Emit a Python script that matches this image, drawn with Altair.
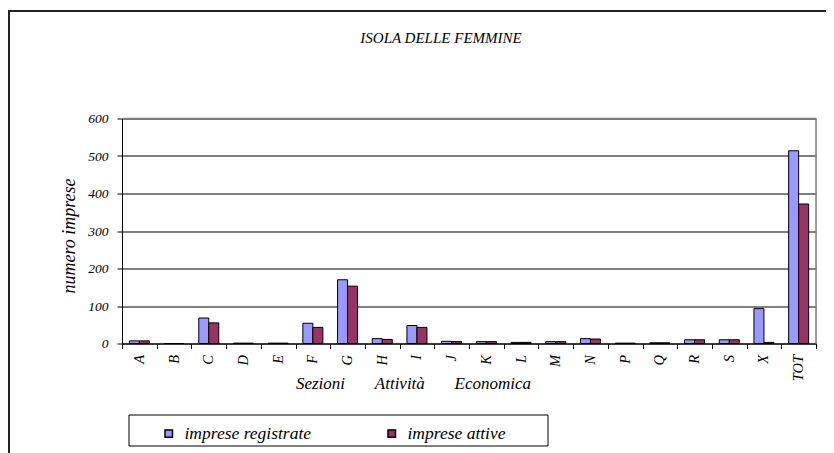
import altair as alt
import pandas as pd

categories = ["A", "B", "C", "D", "E", "F", "G", "H", "I", "J",
              "K", "L", "M", "N", "P", "Q", "R", "S", "X", "TOT"]
registrate = [7, 0, 68, 1, 1, 54, 170, 13, 48, 6, 5, 3, 5, 13, 1, 2, 10, 10, 93, 514]
attive = [7, 0, 55, 1, 1, 43, 153, 11, 43, 5, 5, 3, 5, 12, 1, 2, 10, 10, 3, 372]
series = ["imprese registrate", "imprese attive"]
colors = ["#9999FF", "#993366"]
y_ticks = [0, 100, 200, 300, 400, 500, 600]

rows = []
for c, r, a in zip(categories, registrate, attive):
    rows.append({"sezione": c, "serie": series[0], "valore": r})
    rows.append({"sezione": c, "serie": series[1], "valore": a})
df = pd.DataFrame(rows)

FONT = "Liberation Serif, Times New Roman, Times, serif"
W, H = 694, 225
NB = "\u00a0" * 7
x_title = "Sezioni" + NB + "Attività" + NB + "Economica"

bars = alt.Chart(df).mark_bar(stroke="black", strokeWidth=1).encode(
    x=alt.X(
        "sezione:N",
        sort=categories,
        scale=alt.Scale(paddingInner=0, paddingOuter=0),
        axis=alt.Axis(
            title=x_title,
            titleFont=FONT, titleFontSize=17, titleFontStyle="italic", titleFontWeight="normal",
            titleColor="black", titleX=291, titleY=45, titleAlign="center",
            titleBaseline="alphabetic", titleAngle=0,
            labelAngle=270, labelAlign="right", labelBaseline="middle",
            labelFont=FONT, labelFontSize=14.5, labelFontStyle="italic", labelColor="black",
            labelPadding=6, tickSize=5, tickColor="black", tickBand="extent",
            domainColor="black", domainWidth=1, grid=False, labelOverlap=False,
        ),
    ),
    xOffset=alt.XOffset(
        "serie:N", sort=series,
        scale=alt.Scale(paddingInner=0, paddingOuter=0.735),
    ),
    y=alt.Y(
        "valore:Q",
        scale=alt.Scale(domain=[0, 600], nice=False),
        axis=alt.Axis(
            values=y_ticks, title="numero imprese",
            titleFont=FONT, titleFontSize=18, titleFontStyle="italic", titleFontWeight="normal",
            titleColor="black", titleAngle=270, titleX=-44, titleY=117,
            titleAlign="center", titleBaseline="bottom",
            labelFont=FONT, labelFontSize=13.5, labelFontStyle="italic", labelColor="black",
            labelPadding=9, tickSize=5, tickColor="black",
            domainColor="black", domainWidth=1,
            grid=True, gridColor="black", gridWidth=1, gridOpacity=1,
        ),
    ),
    color=alt.Color(
        "serie:N", sort=series,
        scale=alt.Scale(domain=series, range=colors),
        legend=alt.Legend(
            title=None, orient="none", legendX=38, legendY=306,
            direction="horizontal", columns=2, padding=0,
            symbolType="square", symbolSize=56, symbolStrokeColor="black",
            symbolStrokeWidth=1.5, symbolOpacity=1,
            labelFont=FONT, labelFontSize=17.5, labelFontStyle="italic", labelColor="black",
            labelOffset=7, columnPadding=71, labelLimit=300,
        ),
    ),
)

one = alt.Data(values=[{}])

frame_top = alt.Chart(one).mark_rule(color="#808080", strokeWidth=1.5).encode(
    x=alt.value(0), x2=alt.value(W), y=alt.value(0)
)
frame_right = alt.Chart(one).mark_rule(color="#808080", strokeWidth=1.5).encode(
    x=alt.value(W), y=alt.value(0), y2=alt.value(H)
)
legend_box = alt.Chart(one).mark_rect(fill=None, stroke="black", strokeWidth=1, clip=False).encode(
    x=alt.value(7), x2=alt.value(426), y=alt.value(296.5), y2=alt.value(327.5)
)
outer_box = alt.Chart(one).mark_rect(fill=None, stroke="#222222", strokeWidth=2, clip=False).encode(
    x=alt.value(-113), x2=alt.value(740), y=alt.value(-107.5), y2=alt.value(360)
)

chart = alt.layer(bars, frame_top, frame_right, legend_box, outer_box).properties(
    width=W, height=H,
    title=alt.TitleParams(
        "ISOLA DELLE FEMMINE", font=FONT, fontSize=15, fontStyle="italic", fontWeight="normal",
        color="black", anchor="middle", frame="group", dx=-28, offset=-48, baseline="alphabetic",
    ),
    autosize=alt.AutoSizeParams(type="none"),
    padding={"left": 114, "top": 110.5, "right": 10, "bottom": 109},
).configure_view(stroke=None).configure(background="white")

chart.save("out.html", embed_options={"renderer": "svg", "actions": False})
